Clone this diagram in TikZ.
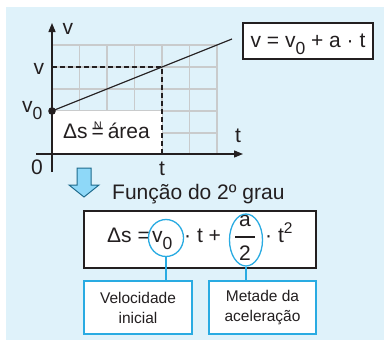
\documentclass[tikz,border=0pt]{standalone}
\usepackage{fontspec}
\setmainfont{Liberation Sans}
\usetikzlibrary{shapes.geometric,arrows.meta}

\definecolor{bgblue}{HTML}{DFF2FA}
\definecolor{gridgray}{HTML}{C9CBCC}
\definecolor{ink}{HTML}{231F20}
\definecolor{cyanline}{HTML}{29ABE2}
\definecolor{arrowfill}{HTML}{8ED8F8}
\definecolor{arrowline}{HTML}{1E6A8C}

\newcommand{\subzero}{\raisebox{-0.32em}{\fontsize{17.5}{17.5}\selectfont 0}}

\begin{document}
\begin{tikzpicture}[x=1pt,y=-1pt, font=\fontsize{21}{23}\selectfont, text=ink,
 lbl/.style={inner sep=0pt},
 graybox/.style={draw=ink, line width=1.2pt, fill=white, inner sep=0pt},
 tagbox/.style={draw=cyanline, line width=1.3pt, fill=white, align=center, inner sep=0pt,
   font=\fontsize{15.5}{20}\selectfont},
 ring/.style={draw=cyanline, line width=1.3pt, ellipse, inner sep=0pt},
 dashline/.style={draw=ink, dash pattern=on 5pt off 3pt, line width=1.1pt},
 gridline/.style={draw=gridgray, line width=1.3pt},
 axis/.style={draw=ink, line width=1.3pt, -{Triangle[width=7pt,length=9pt]}},
 ]
\useasboundingbox (0,0) rectangle (384,340);
\fill[bgblue] (6,7) rectangle (384,340);

% grid
\foreach \x in {79.5,107,134.5,162,189.5,217} \draw[gridline] (\x,45) -- (\x,154);
\foreach \y in {45,67,89,111,133} \draw[gridline] (52,\y) -- (217,\y);
\fill[white] (52,111) rectangle (162,154);

% axes
\coordinate (ybot) at (52,172);
\coordinate (ytop) at (52,23);
\coordinate (xleft) at (36,154);
\coordinate (xright) at (243,154);
\draw[axis] (ybot) -- (ytop);
\draw[axis] (xleft) -- (xright);

% dashed guides and velocity line
\coordinate (vpt) at (162,67);
\coordinate (vleft) at (52,67);
\coordinate (tpt) at (162,154);
\coordinate (v0pt) at (52,111);
\coordinate (lineend) at (232,39);
\draw[dashline] (vleft) -- (vpt) -- (tpt);
\draw[ink, line width=1.2pt] (v0pt) -- (lineend);
\fill[ink] (v0pt) circle (3.8);

% axis labels
\node[lbl] (vaxis) at (68,29) {v};
\node[lbl] (vlab) at (39,69) {v};
\node[lbl, anchor=base west] (v0lab) at (22,113) {v\subzero};
\node[lbl] (zero) at (37,167) {0};
\node[lbl] (tlab) at (162,168.5) {t};
\node[lbl] (taxis) at (238,136) {t};

% area text
\node[lbl, anchor=base west] (ds1) at (63,139) {Δs};
\node[lbl, anchor=base west] (eqs) at (ds1.base east) {\,=\,};
\node[lbl, anchor=south, font=\fontsize{11}{11}\selectfont] (nn) at ([yshift=-1.5pt]eqs.north) {N};
\node[lbl, anchor=base west] (area) at (eqs.base east) {área};

% equation box v = v0 + a t
\node[graybox, minimum width=130pt, minimum height=36pt] (eqv) at (308,41) {};
\node[lbl, anchor=base] (eqvtext) at (308,48) {v = v\subzero{} + a · t};

% arrow
\draw[arrowline, fill=arrowfill, line width=1pt, line join=miter]
  (77,168) -- (91,168) -- (91,185) -- (99,185) -- (84,197) -- (69,185) -- (77,185) -- cycle;

\node[lbl, anchor=base west] (funcao) at (112,199) {Função do 2º grau};

% formula box
\node[graybox, minimum width=232pt, minimum height=57pt] (eqbox) at (200,239.5) {};
\node[lbl, anchor=base west] (ds) at (107,243) {Δs =};
\node[lbl, anchor=base west] (v0f) at (152,243) {v\subzero};
\node[lbl, anchor=base west] (tplus) at (184,243) {· t +};
\node[lbl] (anum) at (245,221) {a};
\draw[ink, line width=1.2pt] (235,237) -- (255,237);
\node[lbl] (aden) at (245,253) {2};
\node[lbl, anchor=base west] (tsq) at (265,243) {· t\raisebox{0.45em}{\fontsize{15.5}{15.5}\selectfont 2}};

\node[ring, minimum width=35pt, minimum height=37pt] (ev0) at (166,238) {};
\node[ring, minimum width=33pt, minimum height=52pt] (ea2) at (246,240) {};

% tag boxes
\node[tagbox, minimum width=108pt, minimum height=53pt] (lab1) at (138,307.5) {Velocidade\\inicial};
\node[tagbox, minimum width=107pt, minimum height=53pt] (lab2) at (262.5,307.5) {Metade da\\aceleração};

\draw[cyanline, line width=1.3pt] (ev0.south) -- (ev0.south |- lab1.north);
\draw[cyanline, line width=1.3pt] (ea2.south) -- (ea2.south |- lab2.north);
\end{tikzpicture}
\end{document}
